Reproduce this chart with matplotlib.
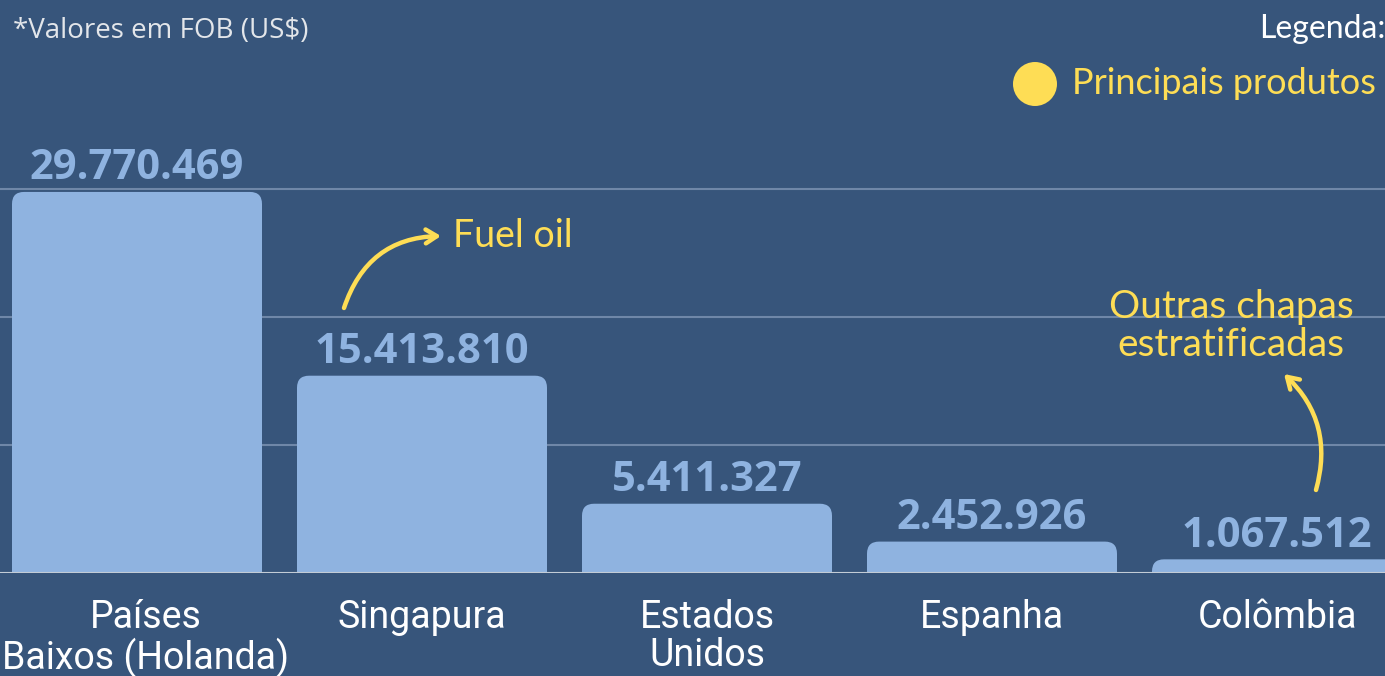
import matplotlib
matplotlib.use('Agg')
import matplotlib.pyplot as plt
from matplotlib.patches import FancyBboxPatch, Circle

# data
paises = ['Países\nBaixos (Holanda)', 'Singapura', 'Estados\nUnidos', 'Espanha', 'Colômbia']
valores = [29770469, 15413810, 5411327, 2452926, 1067512]
rotulos = ['29.770.469', '15.413.810', '5.411.327', '2.452.926', '1.067.512']
grade = [10e6, 20e6, 30e6]

BG = '#37557b'
BAR = '#8fb3e0'
YEL = '#fedd55'

W, H = 1385, 676
fig = plt.figure(figsize=(W / 100, H / 100), dpi=100, facecolor=BG)

# axes: bar i centred at 137 + 285*i px, baseline at 573 px, 12.8 px per million
base_px = 573
ymax = 40e6
ax = fig.add_axes([0, (H - base_px) / H, 1, ymax * 12.8e-6 / H])
ax.set_facecolor(BG)
ax.set_xlim(-137 / 285, (W - 137) / 285)
ax.set_ylim(0, ymax)
for s in ax.spines.values():
    s.set_visible(False)
ax.set_xticks([])
ax.set_yticks([])

for g in grade:
    ax.axhline(g, color='#6f87a8', lw=1.5, zorder=0)

# rounded top bars (bottom corners pushed below the baseline and clipped)
larg = 250 / 285
r_px = 12
aspect = (1 / 12.8e-6) / (1 / 285)  # y units per x unit for the same pixel
for i, v in enumerate(valores):
    p = FancyBboxPatch((i - larg / 2, -2e6), larg, v + 2e6,
                       boxstyle='round,pad=0,rounding_size=%f' % (r_px / 285),
                       mutation_aspect=aspect, fc=BAR, ec='none', zorder=2)
    ax.add_patch(p)
    ax.annotate(rotulos[i], (i, v), xytext=(0, 9), textcoords='offset points',
                ha='center', va='baseline', fontsize=30, fontweight='bold',
                family='Open Sans', color=BAR, zorder=3)

ax.axhline(0, color='#c3ccd6', lw=1.5, zorder=3)

# country labels (first one nudged right so it stays inside the picture)
for i, nome in enumerate(paises):
    xc = 137 + 285 * i + (9 if i == 0 else 0)
    fig.text(xc / W, 1 - 599 / H, nome, ha='center', va='top',
             fontsize=27, family='Roboto', color='white', linespacing=1.05)

fig.text(13 / W, 1 - 31 / H, '*Valores em FOB (US$)', ha='left', va='center',
         fontsize=20, family='Open Sans', color='#e3e6ea')
fig.text(1386 / W, 1 - 29 / H, 'Legenda:', ha='right', va='center',
         fontsize=23, family='Lato', color='white')
fig.patches.append(Circle((10.35, 6.76 - 0.84), 0.22, transform=fig.dpi_scale_trans,
                          fc=YEL, ec='none'))
fig.text(1072 / W, 1 - 84 / H, 'Principais produtos', ha='left', va='center',
         fontsize=26, family='Lato', color=YEL)

# annotations with curved arrows
def px2data(x, y):
    return (x - 137) / 285, (base_px - y) / 12.8e-6

ax.annotate('', xy=px2data(441, 236), xytext=px2data(344, 308),
            arrowprops=dict(arrowstyle='->,head_length=0.8,head_width=0.5',
                            connectionstyle='arc3,rad=-0.35', color=YEL, lw=3.2,
                            shrinkA=0, shrinkB=0))
ax.text(*px2data(453, 236), 'Fuel oil', ha='left', va='center',
        fontsize=27, family='Lato', color=YEL)

ax.annotate('', xy=px2data(1284, 374), xytext=px2data(1316, 490),
            arrowprops=dict(arrowstyle='->,head_length=0.8,head_width=0.5',
                            connectionstyle='arc3,rad=0.3', color=YEL, lw=3.2,
                            shrinkA=0, shrinkB=0))
ax.text(*px2data(1231, 326), 'Outras chapas\nestratificadas', ha='center', va='center',
        fontsize=28, family='Lato', color=YEL, linespacing=1.1)

fig.savefig('out.png', dpi=100, facecolor=BG)
